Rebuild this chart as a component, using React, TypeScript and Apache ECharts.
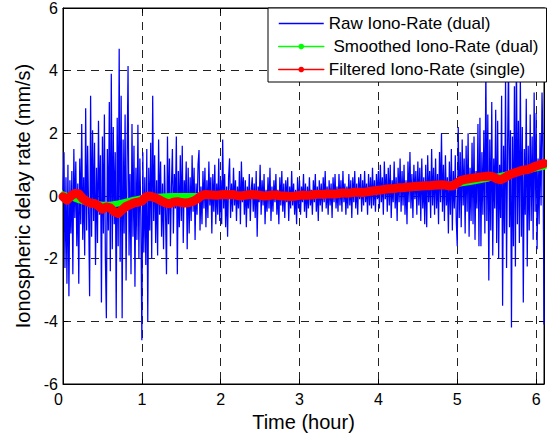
import React, { useEffect, useRef } from 'react';
import * as echarts from 'echarts';

// ---- data -------------------------------------------------------------
const RAW_NAME = 'Raw Iono-Rate (dual)';
const SMOOTH_NAME = ' Smoothed Iono-Rate (dual)';
const FILTER_NAME = 'Filtered Iono-Rate (single)';

// raw dual-frequency iono rate (mm/s), one sample every 0.0125 h (8 per 0.1 h row)
const RAW_STEP = 0.0125;
const RAW_RATE: number[] = [
  0.2, 1.4, -2.3, 0.6, -2.8, 1.0, -3.2, 0.5, // 0.0
  -1.2, 0.8, -2.5, 1.5, -0.7, 1.1, -1.6, 0.4, // 0.1
  -2.8, 1.2, -0.9, 2.3, -1.4, 0.6, -1.9, 2.8, // 0.2
  -1.1, 1.6, -0.5, -3.2, 3.2, -1.3, 2.1, -0.8, // 0.3
  1.7, -2.2, 0.9, -1.5, 2.4, -0.6, 1.3, -3.4, // 0.4
  1.9, -1.2, 2.6, -2.0, -3.9, 1.5, -1.1, 3.0, // 0.5
  -2.4, 3.9, -1.7, 2.2, -0.9, 1.4, -3.9, 2.5, // 0.6
  -1.6, 4.7, -2.1, 3.2, -3.9, 1.8, -1.2, 2.6, // 0.7
  -2.7, 1.1, 4.15, -1.9, 0.7, -2.5, 2.3, -1.3, // 0.8
  1.6, -2.9, 0.9, -1.4, 2.27, -2.0, 1.2, -0.7, // 0.9
  -4.6, 1.4, -1.8, 0.6, -2.2, 1.5, -4.0, 0.9, // 1.0
  -1.1, 1.7, -2.0, 3.2, -0.8, 1.3, -1.5, 0.5, // 1.1
  -1.9, 1.8, -0.6, 1.1, -1.3, 0.4, -1.7, 1.0, // 1.2
  -0.5, -2.5, 1.9, -0.9, 1.2, -1.6, 0.3, 1.5, // 1.3
  -1.2, 0.7, -0.4, 1.9, -2.5, 0.8, -1.0, 1.3, // 1.4
  -0.8, 1.6, -1.5, 0.5, -0.3, 1.1, -1.7, 0.9, // 1.5
  -1.2, 0.6, -0.8, 1.3, -0.5, 0.9, -1.4, 0.4, // 1.6
  -0.6, 1.0, 1.47, -1.1, 0.3, -0.9, 0.8, -0.4, // 1.7
  0.9, -1.0, 0.5, -0.7, 1.1, -0.3, 0.6, -1.2, // 1.8
  0.7, -0.5, 1.0, -0.9, 0.4, -0.6, 1.2, -0.8, // 1.9
  0.5, -0.9, 1.8, -0.4, 0.7, -1.0, 0.3, -1.3, // 2.0
  0.6, 1.2, -0.7, 0.4, -0.5, 0.9, -0.3, 0.5, // 2.1
  -0.8, 0.3, -0.4, 0.8, -0.9, 1.1, -0.2, 0.6, // 2.2
  -0.6, 0.5, -1.0, 0.3, -0.4, 0.7, -0.8, 0.2, // 2.3
  0.6, -0.5, 0.4, -0.7, 0.8, -1.3, 0.3, -0.2, // 2.4
  1.0, -0.6, 0.5, -0.3, 0.7, -0.9, 0.2, -0.5, // 2.5
  0.6, -0.4, 0.9, -0.8, 0.3, -0.5, 0.5, -0.2, // 2.6
  0.7, -0.6, 0.2, -0.9, 0.6, -0.3, 0.8, -0.5, // 2.7
  0.4, -0.7, 0.5, -0.2, 0.6, -0.8, 0.3, -0.4, // 2.8
  0.8, -0.3, 0.4, -0.6, 0.2, -0.9, 0.6, -0.4, // 2.9
  0.5, -0.6, 0.3, -0.2, 0.7, -0.5, 0.4, -0.7, // 3.0
  0.3, -0.4, 0.6, -0.3, 0.2, -0.6, 0.5, -0.2, // 3.1
  0.7, -0.5, 0.3, -0.8, 0.5, -0.3, 0.4, -0.5, // 3.2
  0.6, -0.2, 0.8, -0.4, 0.3, -0.6, 0.5, -0.3, // 3.3
  0.4, -0.7, 0.6, -0.2, 0.7, -0.4, 0.3, -0.5, // 3.4
  0.7, -0.3, 0.5, -0.5, 0.8, -0.2, 0.4, -0.6, // 3.5
  0.3, -0.4, 0.7, -0.3, 0.5, -0.7, 0.6, -0.2, // 3.6
  0.8, -0.4, 0.4, -0.6, 0.6, -0.1, 0.7, -0.5, // 3.7
  0.5, -0.3, 0.8, -0.2, 0.4, -0.6, 0.7, -0.3, // 3.8
  0.6, -0.4, 0.9, -0.3, 0.5, -0.5, 0.7, -0.1, // 3.9
  0.8, -0.4, 1.0, -0.2, 0.6, -0.6, 1.1, -0.1, // 4.0
  0.7, -0.5, 0.9, -0.3, 1.0, -0.7, 0.5, -0.2, // 4.1
  1.1, -0.4, 0.6, -0.8, 0.9, -0.2, 1.2, -0.5, // 4.2
  0.8, -0.3, 1.0, -0.6, 0.5, -0.9, 1.1, -0.2, // 4.3
  1.4, -0.4, 0.7, -0.7, 1.0, -0.1, 0.8, -0.6, // 4.4
  1.1, -0.3, 0.9, -0.8, 1.2, -0.4, 0.6, -0.9, // 4.5
  1.0, -1.0, 1.3, -0.2, 0.8, -0.7, 1.5, -0.3, // 4.6
  0.9, -0.6, 1.2, -0.4, 0.7, -0.9, 1.4, -0.2, // 4.7
  2.0, -0.5, 1.0, -0.8, 1.3, -0.3, 0.6, -1.2, // 4.8
  1.1, -0.6, 1.5, -1.1, 0.8, -0.4, 1.3, -0.8, // 4.9
  -1.6, 2.2, -0.7, 1.4, -1.0, 1.8, -0.3, 1.2, // 5.0
  -1.2, 1.6, -0.5, 2.0, -1.3, 0.9, -0.8, 1.7, // 5.1
  -0.9, 1.9, -1.4, 0.8, -0.4, 2.3, -1.6, 2.5, // 5.2
  -1.6, 1.4, -0.6, 2.1, -1.2, 4.2, -0.8, 2.6, // 5.3
  -2.7, 1.8, -1.1, 3.0, -1.9, 1.2, -0.4, 2.75, // 5.4
  -1.5, 2.4, -2.0, 1.0, -0.7, 3.2, -3.5, 1.6, // 5.5
  -1.2, 3.8, -2.3, 1.4, 4.4, -1.0, 2.1, -4.2, // 5.6
  1.9, -1.6, 3.5, -2.25, 4.8, -0.9, 2.4, -1.5, // 5.7
  3.9, -1.3, 2.2, -3.4, 1.5, -0.6, 3.1, -2.25, // 5.8
  1.6, -1.1, 2.6, -0.8, 1.9, -1.4, 3.3, -0.5, // 5.9
  2.65, -1.7, 1.2, -0.9, 2.0, -0.3, 3.3, 1.5, // 6.0
  -4.1, // 6.1
];

// smoothed dual-frequency iono rate, every 0.1 h
const SMOOTH_STEP = 0.1;
const SMOOTHED_RATE: number[] = [
  0.05, -0.04, -0.13, -0.2, -0.25, -0.28, -0.28, -0.24, -0.18, -0.12,
  -0.07, -0.04, -0.02, -0.01, 0.0, 0.0, 0.0, 0.0, 0.01, 0.01,
  0.01, 0.01, 0.01, 0.01, 0.01, 0.01, 0.01, 0.01, 0.01, 0.01,
  0.02, 0.03, 0.04, 0.05, 0.06, 0.07, 0.09, 0.11, 0.13, 0.15,
  0.17, 0.2, 0.22, 0.24, 0.26, 0.28, 0.3, 0.32, 0.34, 0.36,
  0.38, 0.42, 0.46, 0.51, 0.56, 0.62, 0.67, 0.72, 0.77, 0.82,
  0.88, 0.93,
];

// filtered single-frequency iono rate, every 0.05 h
const FILTER_STEP = 0.05;
const FILTERED_RATE: number[] = [
  -0.02, -0.13, 0.0, 0.08, 0.07, -0.08, -0.17, -0.23, -0.24, -0.32, // 0.00-0.45
  -0.42, -0.35, -0.38, -0.5, -0.56, -0.44, -0.33, -0.28, -0.22, -0.2, // 0.50-0.95
  -0.16, -0.03, 0.0, -0.04, -0.09, -0.16, -0.22, -0.25, -0.2, -0.18, // 1.00-1.45
  -0.21, -0.22, -0.21, -0.17, -0.1, 0.0, 0.05, 0.04, 0.03, 0.02, // 1.50-1.95
  0.04, 0.05, 0.04, 0.05, 0.02, 0.0, 0.02, 0.04, 0.05, 0.04, // 2.00-2.45
  0.02, 0.0, 0.01, 0.03, 0.03, 0.01, 0.0, -0.01, -0.02, 0.0, // 2.50-2.95
  0.02, 0.03, 0.02, 0.03, 0.05, 0.06, 0.05, 0.07, 0.06, 0.06, // 3.00-3.45
  0.08, 0.1, 0.09, 0.1, 0.12, 0.12, 0.11, 0.13, 0.15, 0.17, // 3.50-3.95
  0.18, 0.2, 0.22, 0.23, 0.24, 0.26, 0.26, 0.28, 0.29, 0.3, // 4.00-4.45
  0.31, 0.32, 0.33, 0.33, 0.34, 0.35, 0.36, 0.35, 0.32, 0.33, // 4.50-4.95
  0.42, 0.5, 0.53, 0.55, 0.57, 0.59, 0.61, 0.62, 0.64, 0.62, // 5.00-5.45
  0.55, 0.52, 0.58, 0.66, 0.72, 0.76, 0.8, 0.83, 0.85, 0.9, // 5.50-5.95
  0.96, 1.0, 1.04, // 6.00-6.10
];

const X_MIN = 0;
const X_MAX = 6.1;
const X_INTERVAL = 1;
const Y_MIN = -6;
const Y_MAX = 6;
const Y_INTERVAL = 2;

const toPairs = (vals: number[], step: number) =>
  vals.map((v, i) => [Math.round(i * step * 10000) / 10000, v]);

const FONT = '"Liberation Sans", Arial, Helvetica, sans-serif';

export default function App() {
  const ref = useRef<HTMLDivElement>(null);

  useEffect(() => {
    if (!ref.current) return;
    const chart = echarts.init(ref.current, undefined, { renderer: 'svg' });

    const gridDash = { color: '#222', type: [8, 6] as number[], width: 1 };
    const axisLineStyle = { color: '#000', width: 1 };

    chart.setOption({
      animation: false,
      backgroundColor: '#fff',
      textStyle: { fontFamily: FONT },
      grid: {
        left: 63,
        right: 2,
        top: 7,
        bottom: 55,
        show: true,
        borderColor: '#000',
        borderWidth: 1,
        backgroundColor: 'transparent',
      },
      legend: {
        orient: 'vertical',
        left: 268,
        top: 8,
        padding: [7, 8, 4, 10],
        itemGap: 6,
        itemWidth: 45,
        itemHeight: 7,
        backgroundColor: '#fff',
        borderColor: '#000',
        borderWidth: 1,
        borderRadius: 0,
        selectedMode: false,
        textStyle: { fontSize: 17, color: '#000', fontFamily: FONT },
        lineStyle: { width: 1.5 },
        data: [
          { name: RAW_NAME, itemStyle: { opacity: 0 } },
          { name: SMOOTH_NAME },
          { name: FILTER_NAME },
        ],
      },
      xAxis: [
        {
          type: 'value',
          min: X_MIN,
          max: X_MAX,
          interval: X_INTERVAL,
          name: 'Time (hour)',
          nameLocation: 'middle',
          nameGap: 26,
          nameTextStyle: { fontSize: 20, color: '#000', fontFamily: FONT },
          axisLine: { show: true, onZero: false, lineStyle: axisLineStyle },
          axisTick: { show: true, inside: true, length: 5, lineStyle: axisLineStyle },
          axisLabel: {
            fontSize: 16,
            color: '#000',
            margin: 7,
            fontFamily: FONT,
            alignMinLabel: 'right',
            formatter: (v: number) =>
              Math.abs(v - Math.round(v)) < 1e-6 ? String(Math.round(v)) : '',
          },
          splitLine: { show: true, lineStyle: gridDash },
        },
        {
          type: 'value',
          position: 'top',
          min: X_MIN,
          max: X_MAX,
          interval: X_INTERVAL,
          axisLine: { show: true, onZero: false, lineStyle: axisLineStyle },
          axisTick: { show: true, inside: true, length: 5, lineStyle: axisLineStyle },
          axisLabel: { show: false },
          splitLine: { show: false },
        },
      ],
      yAxis: [
        {
          type: 'value',
          min: Y_MIN,
          max: Y_MAX,
          interval: Y_INTERVAL,
          name: 'Ionospheric delay rate (mm/s)',
          nameLocation: 'middle',
          nameGap: 28,
          nameTextStyle: { fontSize: 20, color: '#000', fontFamily: FONT },
          axisLine: { show: true, onZero: false, lineStyle: axisLineStyle },
          axisTick: { show: true, inside: true, length: 5, lineStyle: axisLineStyle },
          axisLabel: { fontSize: 16, color: '#000', margin: 5, fontFamily: FONT },
          splitLine: { show: true, lineStyle: gridDash },
        },
        {
          type: 'value',
          position: 'right',
          min: Y_MIN,
          max: Y_MAX,
          interval: Y_INTERVAL,
          axisLine: { show: true, onZero: false, lineStyle: axisLineStyle },
          axisTick: { show: true, inside: true, length: 5, lineStyle: axisLineStyle },
          axisLabel: { show: false },
          splitLine: { show: false },
        },
      ],
      series: [
        {
          name: RAW_NAME,
          type: 'line',
          data: toPairs(RAW_RATE, RAW_STEP),
          symbol: 'none',
          silent: true,
          lineStyle: { color: '#0000ff', width: 1.25 },
          itemStyle: { color: '#0000ff' },
          z: 2,
        },
        {
          name: SMOOTH_NAME,
          type: 'line',
          data: toPairs(SMOOTHED_RATE, SMOOTH_STEP),
          symbol: 'circle',
          symbolSize: 6,
          showSymbol: false,
          silent: true,
          lineStyle: { color: '#00ff00', width: 6, cap: 'round', join: 'round' },
          itemStyle: { color: '#00ff00' },
          z: 3,
        },
        {
          name: FILTER_NAME,
          type: 'line',
          data: toPairs(FILTERED_RATE, FILTER_STEP),
          symbol: 'circle',
          symbolSize: 6,
          showSymbol: false,
          silent: true,
          lineStyle: { color: '#ff0000', width: 9, cap: 'round', join: 'round' },
          itemStyle: { color: '#ff0000' },
          z: 4,
        },
      ],
    });

    return () => chart.dispose();
  }, []);

  return (
    <div
      ref={ref}
      style={{ position: 'fixed', left: 0, top: 0, width: 547, height: 439, background: '#fff' }}
    />
  );
}
